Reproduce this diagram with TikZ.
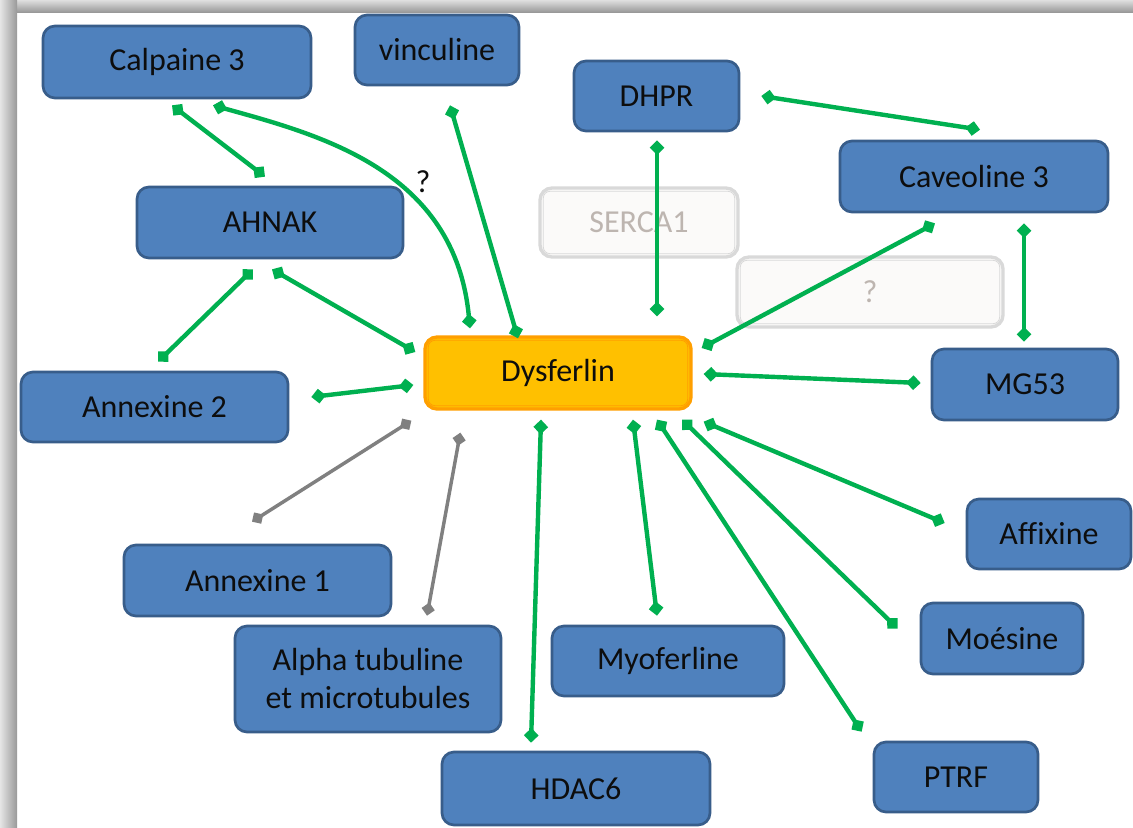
\documentclass[tikz,border=0pt]{standalone}
\usepackage{fontspec}
\setmainfont{Carlito}[Ligatures=NoCommon]
\usetikzlibrary{arrows.meta}

\definecolor{boxfill}{HTML}{4F81BD}
\definecolor{boxline}{HTML}{385D8A}
\definecolor{dysfill}{HTML}{FFC000}
\definecolor{dysline}{HTML}{FF9F00}
\definecolor{lk}{HTML}{00B050}
\definecolor{lkgray}{HTML}{808080}
\definecolor{ghostline}{HTML}{D9D9D9}
\definecolor{ghostfill}{HTML}{FBFAF9}
\definecolor{ghosttext}{HTML}{BDB5B0}
\definecolor{txt}{HTML}{0D0D0D}

\begin{document}
\begin{tikzpicture}[x=0.75pt,y=-0.75pt,
  prot/.style={draw=boxline, fill=boxfill, line width=2pt, rounded corners=9pt,
    font=\fontsize{24}{28.5}\selectfont, text=txt, align=center, inner sep=0pt},
  sz/.style 2 args={minimum width={#1*0.75pt}, minimum height={#2*0.75pt}},
  dysbox/.style={prot, draw=dysline, fill=dysfill, line width=2.5pt},
  ghost/.style={prot, draw=ghostline, fill=ghostfill, line width=2.5pt, text=ghosttext},
  link/.style={draw=lk, line width=3.3pt, {Diamond[length=11pt,width=11pt]}-{Diamond[length=11pt,width=11pt]}},
  glink/.style={draw=lkgray, line width=2.6pt, {Diamond[length=10pt,width=10pt]}-{Diamond[length=10pt,width=10pt]}},
  inner/.style={line width=0.6pt, rounded corners=5pt}
]
\useasboundingbox (0,0) rectangle (1133,828);
\fill[white] (0,0) rectangle (1133,828);
% frame shadow
\shade[top color=gray!25, bottom color=gray!80] (0,0) rectangle (1133,12);
\shade[left color=gray!20, right color=gray!80] (0,0) rectangle (17,828);

% ghost boxes
\node[ghost, sz={198}{69}] (serca) at (639,222.5) {SERCA1};
\draw[inner, ghostline] ([shift={(5,5)}]serca.north west) rectangle ([shift={(-5,-5)}]serca.south east);
\node[ghost, sz={266}{70}] (qbox) at (870,292) {?};
\draw[inner, ghostline] ([shift={(5,5)}]qbox.north west) rectangle ([shift={(-5,-5)}]qbox.south east);

% protein boxes
\node[prot, sz={268}{72}] (cal) at (177,62) {Calpaine 3};
\node[prot, sz={164}{70}] (vin) at (437,50) {vinculine};
\node[prot, sz={165}{70}] (dhpr) at (656.5,96) {DHPR};
\node[prot, sz={268}{71}] (cav) at (974,176.5) {Caveoline 3};
\node[prot, sz={266}{71}] (ahn) at (270,222.5) {AHNAK};
\node[prot, sz={186}{71}] (mg) at (1025,384.5) {MG53};
\node[prot, sz={267}{70}] (an2) at (154.5,407) {Annexine 2};
\node[prot, sz={164}{70}] (aff) at (1049,534) {Affixine};
\node[prot, sz={267}{71}] (an1) at (257.5,580.5) {Annexine 1};
\node[prot, sz={266}{106}] (alpha) at (368,679) {Alpha tubuline\\et microtubules};
\node[prot, sz={232}{70}] (myo) at (668,661) {Myoferline};
\node[prot, sz={162}{71}] (moe) at (1002,638.5) {Moésine};
\node[prot, sz={164}{70}] (ptrf) at (956,777) {PTRF};
\node[prot, sz={268}{73}] (hdac) at (576,788.5) {HDAC6};

\node[dysbox, sz={266}{72}] (dys) at (558,373) {Dysferlin};
\draw[inner, dysline] ([shift={(5,5)}]dys.north west) rectangle ([shift={(-5,-5)}]dys.south east);

\node[font=\fontsize{24}{28}\selectfont, text=txt] (qm) at (423,182) {?};

% links
\draw[link] ([shift={(-5,6)}]cal.south) -- ([shift={(-5,-9)}]ahn.north);
\draw[link] ([shift={(36,6)}]cal.south) .. controls (320,135) and (455,170) .. ([shift={(-88,-7)}]dys.north);
\draw[link] ([shift={(13,19)}]vin.south) -- ([shift={(-40,3)}]dys.north);
\draw[link] ([shift={(0.5,8)}]dhpr.south) -- ([shift={(99,-19)}]dys.north);
\draw[link] ([shift={(21,0)}]dhpr.east) -- ([shift={(6,-10)}]cav.north);
\draw[link] ([shift={(-39,10)}]cav.south) -- ([shift={(9,-25)}]dys.east);
\draw[link] ([shift={(50,10)}]cav.south) -- ([shift={(-1,-6)}]mg.north);
\draw[link] ([shift={(-17,10)}]ahn.south) -- ([shift={(3.5,-9)}]an2.north);
\draw[link] ([shift={(2,10)}]ahn.south) -- ([shift={(-8,-21)}]dys.west);
\draw[link] ([shift={(22,-10)}]an2.east) -- ([shift={(-10,12)}]dys.west);
\draw[glink] ([shift={(-12,10)}]dys.south west) -- ([shift={(-5.5,-22)}]an1.north);
\draw[glink] ([shift={(37,22)}]dys.south west) -- ([shift={(59,-9)}]alpha.north);
\draw[link] ([shift={(-17,9)}]dys.south) -- ([shift={(-45,-8)}]hdac.north);
\draw[link] ([shift={(75,9)}]dys.south) -- ([shift={(-11,-9)}]myo.north);
\draw[link] ([shift={(99,9)}]dys.south) -- ([shift={(-11,-9)}]ptrf.north west);
\draw[link] ([shift={(124,9)}]dys.south) -- ([shift={(-22,-10)}]moe.west);
\draw[link] ([shift={(11,11)}]dys.south east) -- ([shift={(-21,-11)}]aff.west);
\draw[link] ([shift={(11,1)}]dys.east) -- ([shift={(-10,-1.5)}]mg.west);
\end{tikzpicture}
\end{document}
